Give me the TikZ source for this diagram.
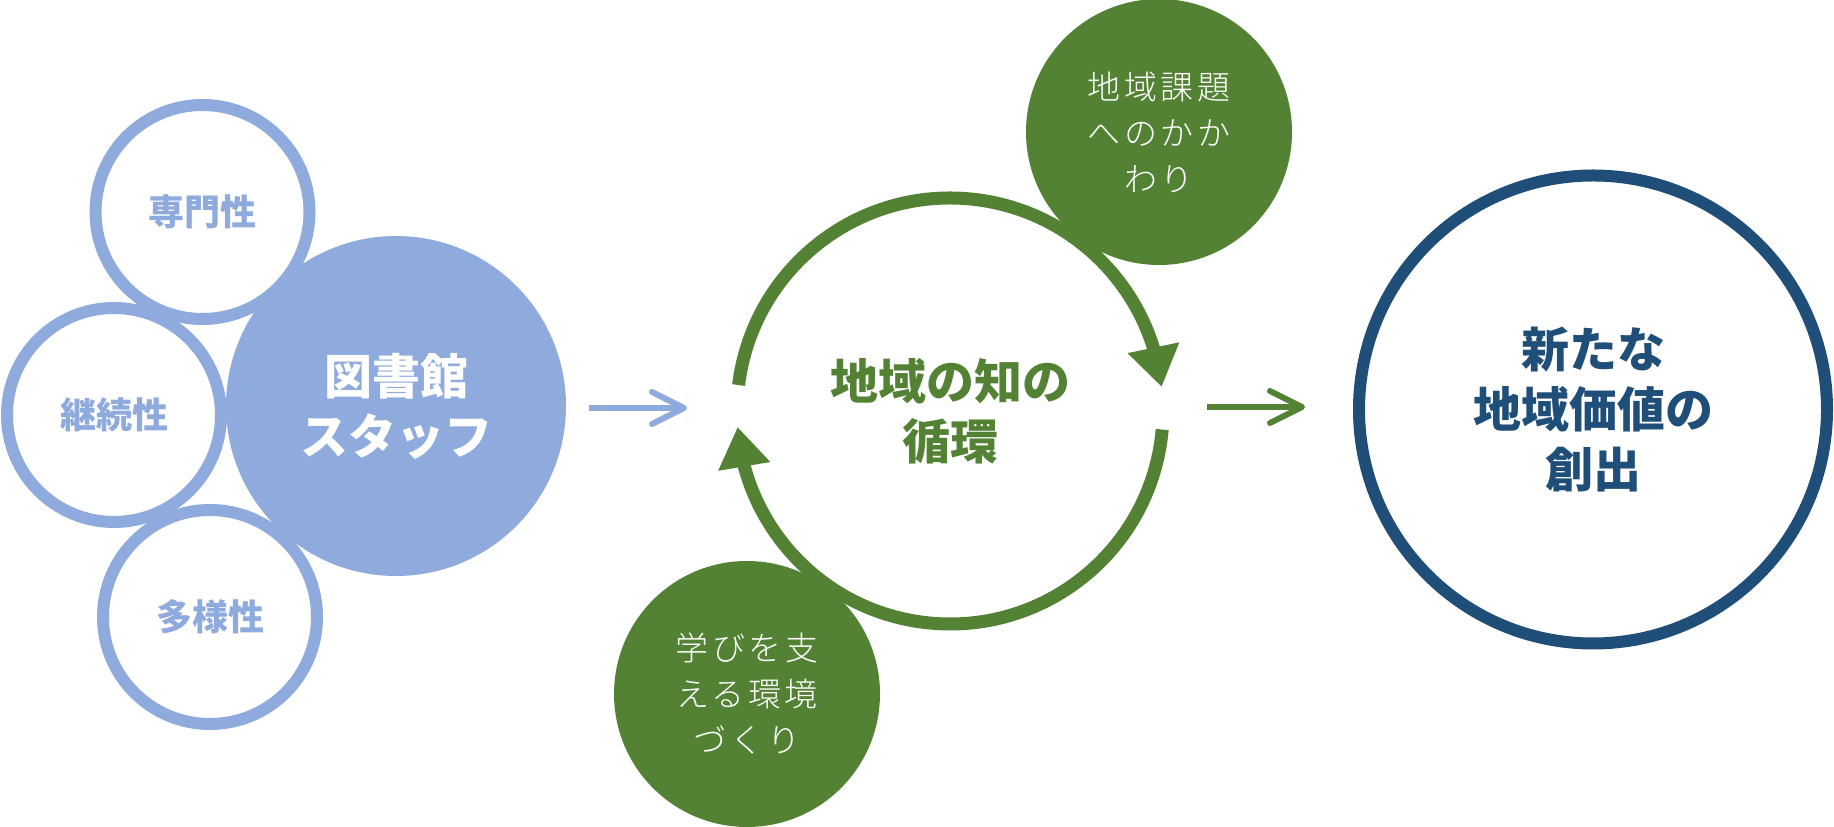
\documentclass[tikz,border=0pt]{standalone}
\usepackage{fontspec}
\setmainfont{Noto Sans CJK JP}
\IfFontExistsTF{Noto Sans CJK JP Light}
  {\newfontfamily\jpspaced{Noto Sans CJK JP Light}[LetterSpace=11]}
  {\IfFontExistsTF{Noto Sans CJK JP DemiLight}
    {\newfontfamily\jpspaced{Noto Sans CJK JP DemiLight}[LetterSpace=11]}
    {\newfontfamily\jpspaced{Noto Sans CJK JP}[LetterSpace=11]}}
\usetikzlibrary{arrows.meta,bending}
\definecolor{lblue}{HTML}{8FAADC}
\definecolor{lgreen}{HTML}{548235}
\definecolor{dblue}{HTML}{1F4E79}
\begin{document}
\begin{tikzpicture}[x=1pt,y=1pt,
  smallring/.style={circle, draw=lblue, line width=12pt, fill=white,
    minimum size=214pt, inner sep=0pt, outer sep=0pt, text=lblue,
    font=\fontsize{36}{44}\selectfont\bfseries},
  staffball/.style={circle, fill=lblue, minimum size=340pt, inner sep=0pt,
    outer sep=0pt, text=white, align=center,
    font=\fontsize{48}{60}\selectfont\bfseries},
  greenball/.style={circle, fill=lgreen, minimum size=266pt, inner sep=0pt,
    outer sep=0pt, text=white, align=center,
    font=\jpspaced\fontsize{33}{46}\selectfont},
  cyclebox/.style={circle, minimum size=426pt, inner sep=0pt, outer sep=0pt,
    text=lgreen, align=center, font=\fontsize{48}{60}\selectfont\bfseries},
  cyclearc/.style={draw=lgreen, line width=13pt,
    -{Triangle[length=40pt,width=50pt]}},
  goalring/.style={circle, draw=dblue, line width=12pt, fill=white,
    minimum size=468pt, inner sep=0pt, outer sep=0pt, text=dblue,
    align=center, font=\fontsize{48}{60}\selectfont\bfseries},
  flowarrow/.style={line width=6pt,
    -{Straight Barb[length=32pt,width=32pt,round]}}
]
\useasboundingbox (0,0) rectangle (1834,827);

% left group
\node[smallring] (senmon) at (202.5,615) {専門性};
\node[smallring] (keizoku) at (114,412) {継続性};
\node[smallring] (tayou) at (210,210) {多様性};
\node[staffball] (staff) at (396,421) {図書館\\スタッフ};

% cycle
\node[cyclebox] (cyc) at (950,416) {地域の知の\\循環};
\draw[cyclearc] (cyc.173) arc[start angle=173, end angle=6.5, radius=213];
\draw[cyclearc] (cyc.-5) arc[start angle=-5, end angle=-175.7, radius=213];
\node[greenball] (kadai) at (1159,695) {地域課題\\へのかか\\わり};
\node[greenball] (kankyo) at (747,133) {学びを支\\える環境\\づくり};

% goal
\node[goalring] (goal) at (1593,417.5) {新たな\\地域価値の\\創出};

% flow arrows
\coordinate (a1s) at (589,419);
\coordinate (a1e) at (687,419);
\coordinate (a2s) at (1207,420);
\coordinate (a2e) at (1305,420);
\draw[flowarrow, draw=lblue] (a1s) -- (a1e);
\draw[flowarrow, draw=lgreen] (a2s) -- (a2e);
\end{tikzpicture}
\end{document}
